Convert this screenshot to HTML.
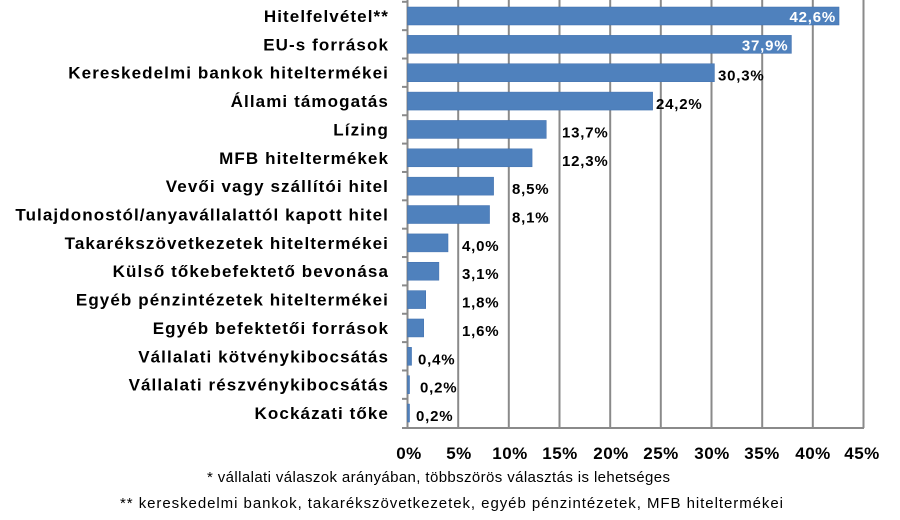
<!DOCTYPE html>
<html><head><meta charset="utf-8"><style>body{margin:0;background:#fff}svg{display:block}text{font-family:"Liberation Sans",sans-serif;font-weight:bold}</style></head><body>
<svg width="900" height="520" xmlns="http://www.w3.org/2000/svg">
<g stroke="#8a8a8a" stroke-width="2">
<line x1="458.2" y1="0" x2="458.2" y2="428"/><line x1="508.8" y1="0" x2="508.8" y2="428"/><line x1="559.5" y1="0" x2="559.5" y2="428"/><line x1="610.2" y1="0" x2="610.2" y2="428"/><line x1="660.8" y1="0" x2="660.8" y2="428"/><line x1="711.5" y1="0" x2="711.5" y2="428"/><line x1="762.2" y1="0" x2="762.2" y2="428"/><line x1="812.8" y1="0" x2="812.8" y2="428"/><line x1="863.5" y1="0" x2="863.5" y2="428"/>
<line x1="407.5" y1="0" x2="407.5" y2="428"/><line x1="402" y1="428" x2="864" y2="428"/>
</g>
<g id="bars" fill="#4f81bd" stroke="#3f6fae" stroke-width="0.5"></g>
<g id="lab" font-size="17" text-anchor="end" fill="#000" letter-spacing="1.1"></g>
<g id="val" font-size="15" letter-spacing="0.8"></g>
<g font-size="17" text-anchor="middle" fill="#000" letter-spacing="0.5">
<text x="409" y="459">0%</text><text x="459" y="459">5%</text><text x="510" y="459">10%</text><text x="560" y="459">15%</text><text x="611" y="459">20%</text><text x="661" y="459">25%</text><text x="712" y="459">30%</text><text x="762" y="459">35%</text><text x="813" y="459">40%</text><text x="862" y="459">45%</text>
</g>
<text x="207" y="482" font-size="15" textLength="463" lengthAdjust="spacing" style="font-weight:normal">* vállalati  válaszok  arányában,  többszörös  választás  is lehetséges</text>
<text x="120" y="508" font-size="15" textLength="663" lengthAdjust="spacing" style="font-weight:normal">** kereskedelmi bankok,  takarékszövetkezetek,  egyéb pénzintézetek, MFB hiteltermékei</text>
<script>
var d=[["Hitelfelvétel**",42.6,0],["EU-s források",37.9,0],["Kereskedelmi bankok hiteltermékei",30.3,718],["Állami támogatás ",24.2,656],["Lízing",13.7,562],["MFB hiteltermékek",12.3,562],["Vevői vagy szállítói hitel",8.5,512],["Tulajdonostól/anyavállalattól kapott hitel",8.1,512],["Takarékszövetkezetek hiteltermékei",4.0,462],["Külső tőkebefektető bevonása",3.1,462],["Egyéb pénzintézetek hiteltermékei",1.8,462],["Egyéb befektetői források",1.6,462],["Vállalati kötvénykibocsátás",0.4,418],["Vállalati részvénykibocsátás",0.2,420],["Kockázati tőke",0.2,416]];
var ns="http://www.w3.org/2000/svg",b=document.getElementById("bars"),l=document.getElementById("lab"),v=document.getElementById("val"),ax=document.querySelector("g");
d.forEach(function(r,i){var c=16+i*28.36,w=r[1]*10.13;
var e=document.createElementNS(ns,"rect");e.setAttribute("x",407.5);e.setAttribute("y",c-9);e.setAttribute("width",Math.max(w,1.5));e.setAttribute("height",18);b.appendChild(e);
var t=document.createElementNS(ns,"text");t.setAttribute("x",389);t.setAttribute("y",c+6);t.textContent=r[0];l.appendChild(t);
var s=document.createElementNS(ns,"text");var txt=r[1].toFixed(1).replace(".",",")+"%";s.textContent=txt;
if(r[2]==0){s.setAttribute("x",407.5+w-3);s.setAttribute("y",c+6);s.setAttribute("fill","#fff");s.setAttribute("text-anchor","end");}else{s.setAttribute("x",r[2]);s.setAttribute("y",c+8);s.setAttribute("fill","#000");}
v.appendChild(s);
var k=document.createElementNS(ns,"line");k.setAttribute("x1",402);k.setAttribute("x2",408);k.setAttribute("y1",c-14.2);k.setAttribute("y2",c-14.2);ax.appendChild(k);});
</script>
</svg></body></html>
